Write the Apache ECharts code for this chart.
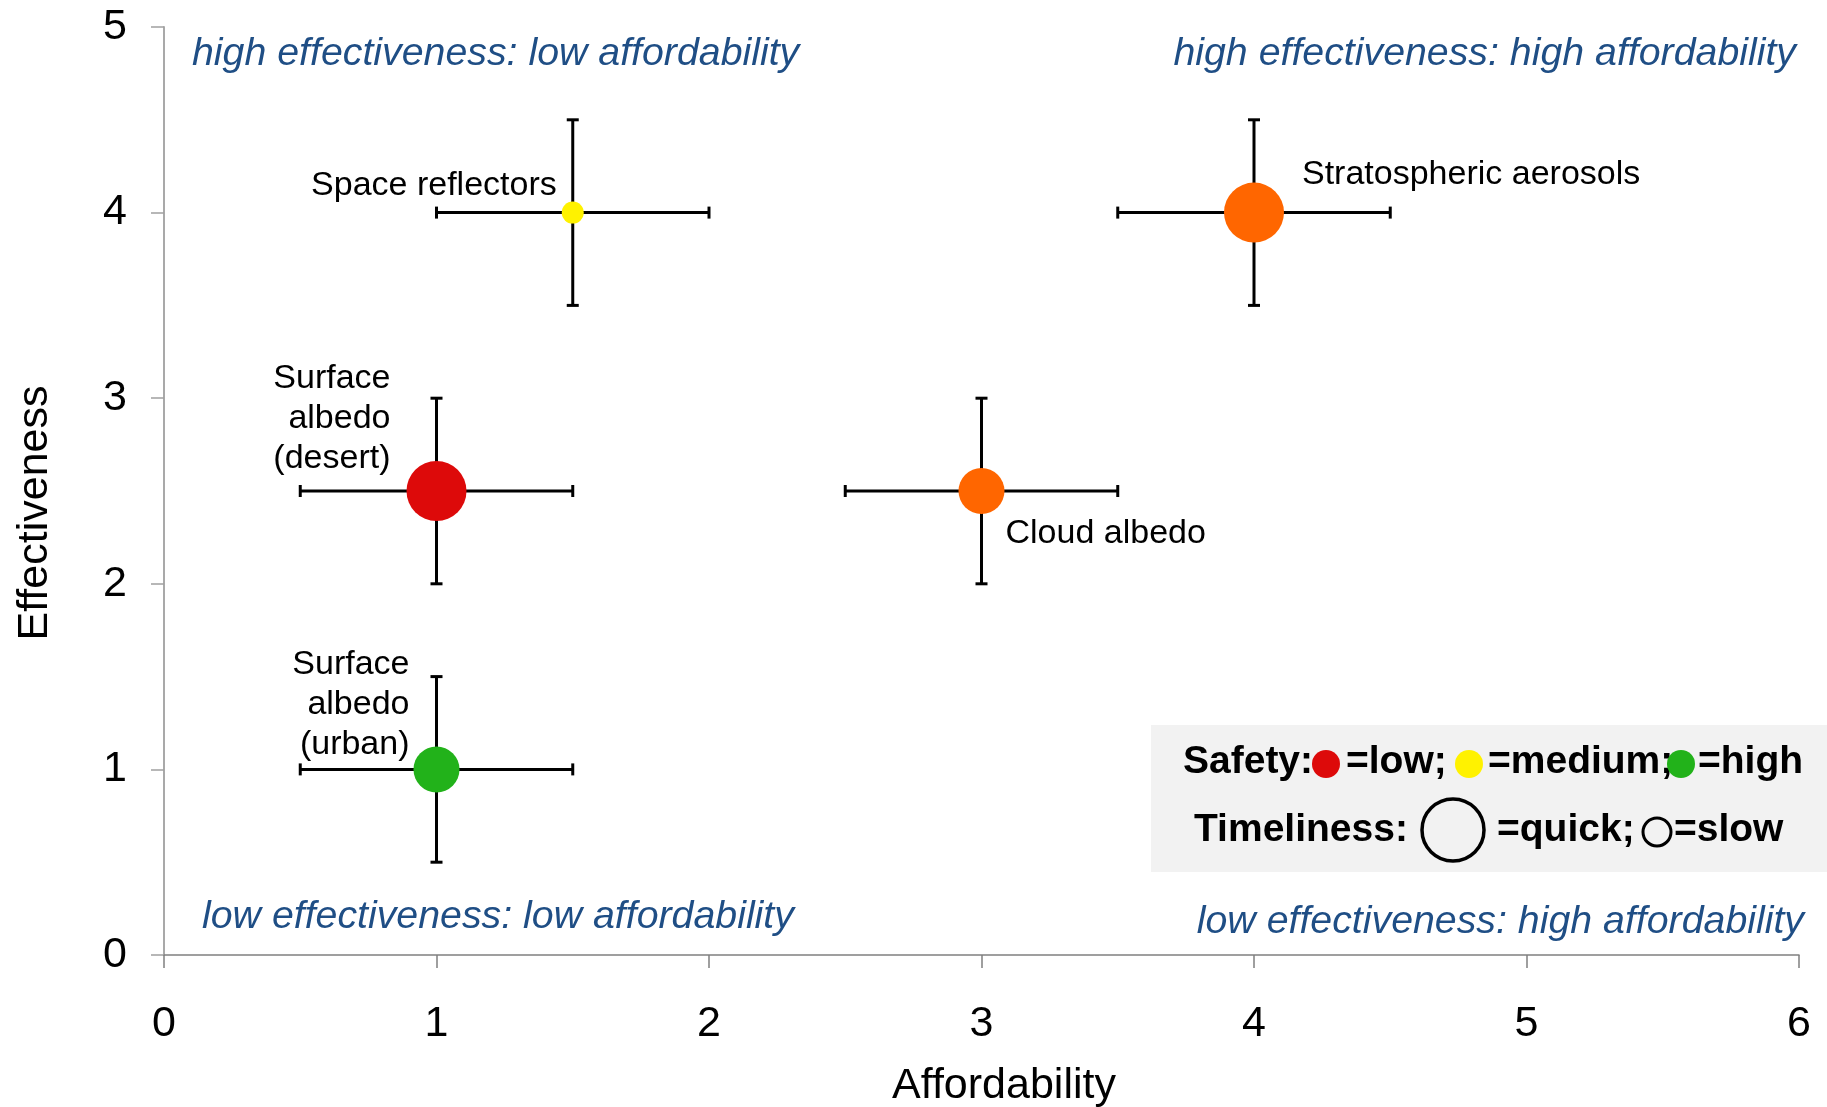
<!DOCTYPE html>
<html>
<head>
<meta charset="utf-8">
<script src="https://cdn.jsdelivr.net/npm/echarts@6/dist/echarts.min.js"></script>
<style>html,body{margin:0;padding:0;background:#fff}#c{width:1827px;height:1107px}</style>
</head>
<body>
<div id="c"></div>
<script>
// ---- data ----
const names = ['Space reflectors', 'Stratospheric aerosols', 'Cloud albedo', 'Surface\nalbedo\n(desert)', 'Surface\nalbedo\n(urban)'];
const affordability = [1.5, 4, 3, 1, 1];
const effectiveness = [4, 4, 2.5, 2.5, 1];
const affordLow  = [1, 3.5, 2.5, 0.5, 0.5];
const affordHigh = [2, 4.5, 3.5, 1.5, 1.5];
const effectLow  = [3.5, 3.5, 2, 2, 0.5];
const effectHigh = [4.5, 4.5, 3, 3, 1.5];
const safety = ['medium', 'medium-low', 'medium-low', 'low', 'high'];
const timeliness = ['slow', 'quick', 'medium', 'quick', 'medium'];
const xTicks = [0, 1, 2, 3, 4, 5, 6];
const yTicks = [0, 1, 2, 3, 4, 5];
const quadrantTexts = ['high effectiveness: low affordability', 'high effectiveness: high affordability',
                       'low effectiveness: low affordability', 'low effectiveness: high affordability'];

// ---- styles ----
const safetyColor = { 'low': '#DD0A0A', 'medium-low': '#FF6600', 'medium': '#FFF200', 'high': '#22B21A' };
const timeSize = { 'quick': 60, 'medium': 46, 'slow': 22 };
const labelLayout = [
  { align: 'right', offset: [-16, -27] },
  { align: 'left', offset: [48, -38] },
  { align: 'left', offset: [24, 43] },
  { align: 'right', offset: [-46, -72] },
  { align: 'right', offset: [-27, -65] }
];
const FONT = 'Liberation Sans, Arial, sans-serif';
const QCOL = '#1F4E85';
const QFS = 39.3;

const pointData = names.map((n, i) => ({
  name: n,
  value: [affordability[i], effectiveness[i]],
  symbolSize: timeSize[timeliness[i]],
  itemStyle: { color: safetyColor[safety[i]], opacity: 1 },
  label: {
    show: true, position: 'inside', formatter: n, color: '#000',
    fontSize: 34, fontFamily: FONT, lineHeight: 40,
    align: labelLayout[i].align, verticalAlign: 'middle', offset: labelLayout[i].offset
  }
}));
const errData = names.map((n, i) => [affordability[i], effectiveness[i], affordLow[i], affordHigh[i], effectLow[i], effectHigh[i]]);

const chart = echarts.init(document.getElementById('c'));
const cap = 6;
const errStyle = { stroke: '#000', lineWidth: 3 };
chart.setOption({
  animation: false,
  backgroundColor: '#fff',
  grid: { left: 164, right: 28, top: 27, bottom: 152, containLabel: false, outerBoundsMode: 'none' },
  xAxis: {
    type: 'value', min: 0, max: 6, interval: 1,
    name: 'Affordability', nameLocation: 'middle', nameGap: 110,
    nameTextStyle: { fontSize: 43, fontFamily: FONT, color: '#000', padding: [0, 0, 0, 45] },
    axisLine: { show: true, lineStyle: { color: '#808080', width: 1.5 } },
    axisTick: { show: true, length: 13, lineStyle: { color: '#808080', width: 1.5 } },
    axisLabel: { fontSize: 43, fontFamily: FONT, color: '#000', margin: 48,
                 formatter: v => xTicks.includes(v) ? String(v) : '' },
    splitLine: { show: false }
  },
  yAxis: {
    type: 'value', min: 0, max: 5, interval: 1,
    name: 'Effectiveness', nameLocation: 'middle', nameGap: 107, nameRotate: 90,
    nameTextStyle: { fontSize: 43, fontFamily: FONT, color: '#000', padding: [0, 44, 0, 0] },
    axisLine: { show: true, lineStyle: { color: '#a0a0a0', width: 1.8 } },
    axisTick: { show: true, length: 13, lineStyle: { color: '#a0a0a0', width: 1.5 } },
    axisLabel: { fontSize: 43, fontFamily: FONT, color: '#000', margin: 37,
                 formatter: v => yTicks.includes(v) ? String(v) : '' },
    splitLine: { show: false }
  },
  series: [
    {
      type: 'custom',
      z: 2,
      data: errData,
      renderItem: function (params, api) {
        const c = api.coord([api.value(0), api.value(1)]);
        const l = api.coord([api.value(2), api.value(1)]);
        const r = api.coord([api.value(3), api.value(1)]);
        const b = api.coord([api.value(0), api.value(4)]);
        const t = api.coord([api.value(0), api.value(5)]);
        const mk = (x1, y1, x2, y2) => ({ type: 'line', shape: { x1, y1, x2, y2 }, style: errStyle });
        return {
          type: 'group',
          children: [
            mk(l[0], l[1], r[0], r[1]),
            mk(l[0], l[1] - cap, l[0], l[1] + cap),
            mk(r[0], r[1] - cap, r[0], r[1] + cap),
            mk(c[0], b[1], c[0], t[1]),
            mk(c[0] - cap, b[1], c[0] + cap, b[1]),
            mk(c[0] - cap, t[1], c[0] + cap, t[1])
          ]
        };
      }
    },
    {
      type: 'scatter',
      z: 3,
      symbol: 'circle',
      itemStyle: { opacity: 1 },
      data: pointData
    }
  ],
  graphic: [
    { type: 'text', left: 192, top: 35, z: 10, style: { text: quadrantTexts[0], fontSize: QFS, fontStyle: 'italic', fontFamily: FONT, fill: QCOL } },
    { type: 'text', right: 31, top: 35, z: 10, style: { text: quadrantTexts[1], fontSize: QFS, fontStyle: 'italic', fontFamily: FONT, fill: QCOL } },
    { type: 'text', left: 202, top: 898, z: 10, style: { text: quadrantTexts[2], fontSize: QFS, fontStyle: 'italic', fontFamily: FONT, fill: QCOL } },
    { type: 'text', right: 23, top: 903, z: 10, style: { text: quadrantTexts[3], fontSize: QFS, fontStyle: 'italic', fontFamily: FONT, fill: QCOL } },
    { type: 'group', z: 10, children: [
      { type: 'rect', shape: { x: 1151, y: 725, width: 676, height: 147 }, style: { fill: '#F2F2F2' } },
      { type: 'text', x: 1183, y: 762, style: { text: 'Safety:', fontSize: 39, fontWeight: 'bold', fontFamily: FONT, fill: '#000', textVerticalAlign: 'middle' } },
      { type: 'circle', shape: { cx: 1326, cy: 764, r: 14 }, style: { fill: safetyColor['low'] } },
      { type: 'text', x: 1346, y: 762, style: { text: '=low;', fontSize: 39, fontWeight: 'bold', fontFamily: FONT, fill: '#000', textVerticalAlign: 'middle' } },
      { type: 'circle', shape: { cx: 1469, cy: 764, r: 14 }, style: { fill: safetyColor['medium'] } },
      { type: 'text', x: 1488, y: 762, style: { text: '=medium;', fontSize: 39, fontWeight: 'bold', fontFamily: FONT, fill: '#000', textVerticalAlign: 'middle' } },
      { type: 'circle', z: 11, shape: { cx: 1681, cy: 764, r: 14 }, style: { fill: safetyColor['high'] } },
      { type: 'text', x: 1698, y: 762, style: { text: '=high', fontSize: 39, fontWeight: 'bold', fontFamily: FONT, fill: '#000', textVerticalAlign: 'middle' } },
      { type: 'text', x: 1194, y: 830, style: { text: 'Timeliness:', fontSize: 39, fontWeight: 'bold', fontFamily: FONT, fill: '#000', textVerticalAlign: 'middle' } },
      { type: 'circle', shape: { cx: 1453, cy: 830, r: 31 }, style: { fill: 'none', stroke: '#000', lineWidth: 3.5 } },
      { type: 'text', x: 1497, y: 830, style: { text: '=quick;', fontSize: 39, fontWeight: 'bold', fontFamily: FONT, fill: '#000', textVerticalAlign: 'middle' } },
      { type: 'circle', shape: { cx: 1657, cy: 832, r: 14 }, style: { fill: 'none', stroke: '#000', lineWidth: 3 } },
      { type: 'text', x: 1674, y: 830, style: { text: '=slow', fontSize: 39, fontWeight: 'bold', fontFamily: FONT, fill: '#000', textVerticalAlign: 'middle' } }
    ] }
  ]
});
</script>
</body>
</html>
